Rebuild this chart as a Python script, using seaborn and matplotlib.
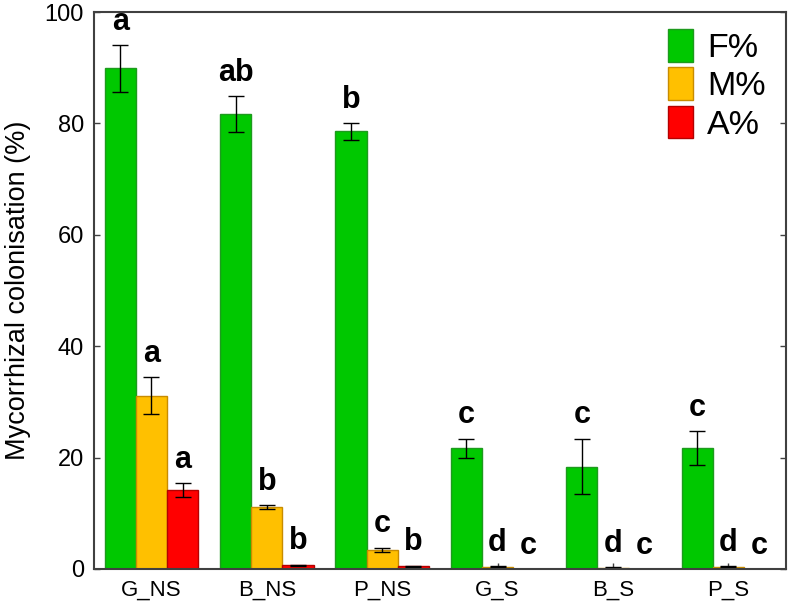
import numpy as np
import pandas as pd
import seaborn as sns
import matplotlib.pyplot as plt

# data
treatments = ['G_NS', 'B_NS', 'P_NS', 'G_S', 'B_S', 'P_S']
series = ['F%', 'M%', 'A%']
f_mean = [89.9, 81.7, 78.6, 21.7, 18.4, 21.7]
f_err = [4.2, 3.2, 1.5, 1.7, 5.0, 3.1]
m_mean = [31.1, 11.1, 3.4, 0.4, 0.2, 0.4]
m_err = [3.3, 0.4, 0.4, 0.1, 0.1, 0.1]
a_mean = [14.2, 0.7, 0.5, 0.0, 0.0, 0.0]
a_err = [1.2, 0.1, 0.1, 0.0, 0.0, 0.0]
f_letters = ['a', 'ab', 'b', 'c', 'c', 'c']
m_letters = ['a', 'b', 'c', 'd', 'd', 'd']
a_letters = ['a', 'b', 'b', 'c', 'c', 'c']

colors = ['#00C800', '#FFC000', '#FF0000']
edges = ['#1E9A1E', '#C88C00', '#B40000']

df = pd.DataFrame({
    'treatment': treatments * 3,
    'series': np.repeat(series, len(treatments)),
    'value': f_mean + m_mean + a_mean,
})
errs = [f_err, m_err, a_err]
letters = [f_letters, m_letters, a_letters]

sns.set_style('ticks')
plt.rcParams['font.family'] = ['Liberation Sans', 'DejaVu Sans']
plt.rcParams['text.color'] = 'black'
plt.rcParams['axes.labelcolor'] = 'black'

fig = plt.figure(figsize=(7.88, 6.04), dpi=100)
ax = fig.add_axes([0.119, 0.058, 0.8785, 0.922])

sns.barplot(data=df, x='treatment', y='value', hue='series', order=treatments,
            hue_order=series, palette=colors, saturation=1, width=0.81,
            errorbar=None, linewidth=1, ax=ax)

# error bars and letters
bar_groups = list(ax.containers)
for k, cont in enumerate(bar_groups):
    for i, p in enumerate(cont.patches):
        p.set_edgecolor(edges[k])
        xc = p.get_x() + p.get_width() / 2
        h = p.get_height()
        e = errs[k][i]
        if e > 0:
            ax.errorbar(xc, h, yerr=e, fmt='none', ecolor='black', elinewidth=1,
                        capsize=6, capthick=1)
        ax.annotate(letters[k][i], (xc, h + e), xytext=(0, 6),
                    textcoords='offset points', ha='center', va='bottom',
                    fontsize=22, fontweight='bold')

ax.set_ylim(0, 100)
ax.set_xlim(-0.5, 5.5)
ax.set_yticks([0, 20, 40, 60, 80, 100])
ax.set_xlabel('')
ax.set_ylabel('Mycorrhizal colonisation (%)', fontsize=19.5, labelpad=10)
ax.tick_params(axis='y', labelsize=17, direction='in', length=4, width=1,
               colors='#404040', labelcolor='black', right=True, labelright=False,
               pad=7)
ax.tick_params(axis='x', labelsize=16, direction='in', length=4, width=1,
               colors='#404040', labelcolor='black', pad=8)
for spine in ax.spines.values():
    spine.set_visible(True)
    spine.set_color('#404040')
    spine.set_linewidth(1.5)

leg = ax.legend(loc='upper right', bbox_to_anchor=(1.0, 1.006), frameon=False,
                fontsize=24.5, handlelength=0.76, handleheight=1.1,
                labelspacing=0.1, handletextpad=0.4, borderaxespad=0.2)
for h, ec in zip(leg.legend_handles, edges):
    h.set_edgecolor(ec)

plt.savefig('out.png', dpi=100)
